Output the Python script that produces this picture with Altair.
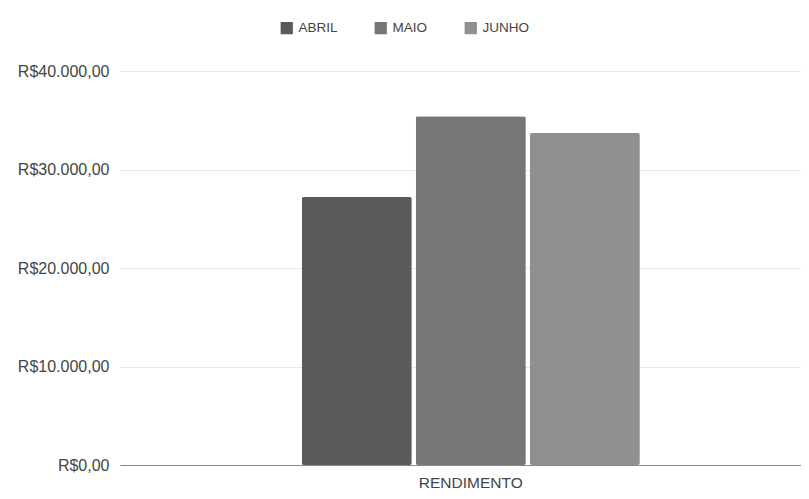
import altair as alt
import pandas as pd

categoria = ["RENDIMENTO"]
meses = ["ABRIL", "MAIO", "JUNHO"]
valores = [27200, 35400, 33700]
cores = ["#5a5a5a", "#767676", "#909090"]

df = pd.DataFrame({
    "categoria": categoria * len(meses),
    "mes": meses,
    "valor": valores,
})

font = "Liberation Sans"

chart = alt.Chart(df).mark_bar(cornerRadius=2).encode(
    x=alt.X("categoria:N", title=None,
            scale=alt.Scale(paddingInner=0, paddingOuter=0.507, align=0.53),
            axis=alt.Axis(labelAngle=0, ticks=False, labelPadding=10, domainColor="#8a8a8a",
                          labelColor="#444444", labelFontSize=15.5, labelFont=font)),
    xOffset=alt.XOffset("mes:N", sort=meses, scale=alt.Scale(paddingInner=0.035, paddingOuter=0)),
    y=alt.Y("valor:Q", title=None,
            scale=alt.Scale(domain=[0, 40000], nice=False),
            axis=alt.Axis(values=[0, 10000, 20000, 30000, 40000], domain=False, ticks=False,
                          labelPadding=11, gridColor="#dcdcdc", gridDash=[2, 1],
                          labelExpr="'R$' + replace(format(datum.value, ',d'), ',', '.') + ',00'",
                          labelColor="#444444", labelFontSize=16, labelFont=font)),
    color=alt.Color("mes:N", sort=meses, title=None,
                    scale=alt.Scale(domain=meses, range=cores),
                    legend=alt.Legend(orient="none", direction="horizontal", legendX=160, legendY=-50,
                                      symbolType="square", symbolSize=150, symbolStrokeWidth=0,
                                      labelFont=font, labelFontSize=13.5, labelColor="#444444",
                                      columnPadding=36, labelOffset=5)),
).properties(
    width=681, height=394,
    autosize=alt.AutoSizeParams(type="none"),
    padding={"left": 112, "top": 63, "right": 0, "bottom": 28},
).configure_view(stroke=None)

chart.save("out.html", embed_options={"renderer": "svg", "actions": False})
